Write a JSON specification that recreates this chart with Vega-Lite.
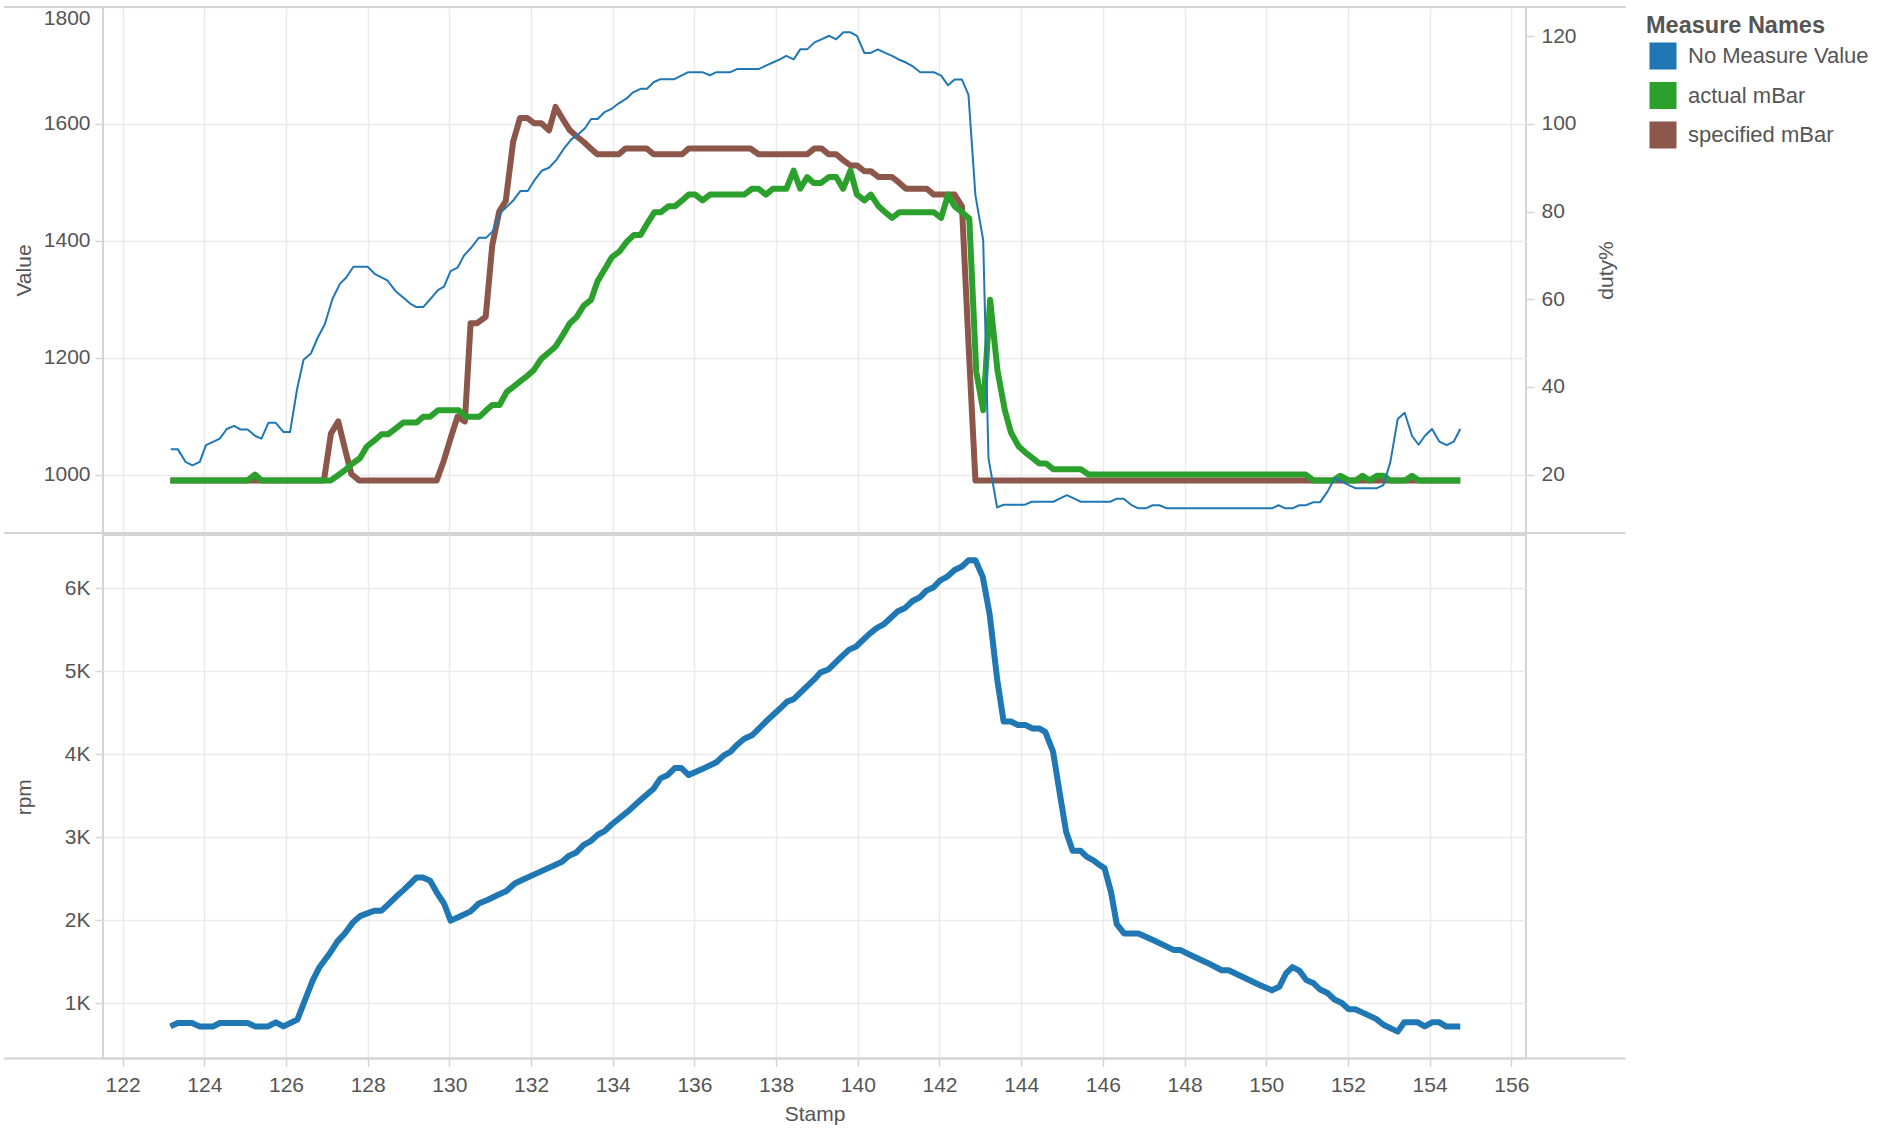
{
 "$schema": "https://vega.github.io/schema/vega-lite/v6.json",
 "background": "#ffffff",
 "padding": {"left": 2, "top": 5, "right": 0, "bottom": 0},
 "spacing": -5.5,
 "config": {
  "font": "Liberation Sans",
  "view": {"stroke": "#d4d4d4", "strokeWidth": 2},
  "axis": {"domain": false, "grid": true, "gridColor": "#ebebeb", "gridWidth": 1.5, "tickColor": "#d4d4d4", "tickSize": 8, "tickWidth": 1.5, "labelFontSize": 21, "labelColor": "#555555", "titleFontSize": 21, "titleColor": "#555555", "titleFontWeight": "normal", "labelPadding": 5}
 },
 "datasets": {
  "specified": [{"Stamp":123.17,"mBar":990},{"Stamp":126.93,"mBar":990},{"Stamp":127.1,"mBar":1070},{"Stamp":127.28,"mBar":1091},{"Stamp":127.44,"mBar":1045},{"Stamp":127.6,"mBar":1001},{"Stamp":127.79,"mBar":990},{"Stamp":129.69,"mBar":990},{"Stamp":129.87,"mBar":1025},{"Stamp":130.03,"mBar":1062},{"Stamp":130.2,"mBar":1099},{"Stamp":130.38,"mBar":1091},{"Stamp":130.52,"mBar":1259},{"Stamp":130.68,"mBar":1259},{"Stamp":130.89,"mBar":1270},{"Stamp":131.05,"mBar":1392},{"Stamp":131.22,"mBar":1450},{"Stamp":131.38,"mBar":1468},{"Stamp":131.56,"mBar":1569},{"Stamp":131.73,"mBar":1610},{"Stamp":131.91,"mBar":1610},{"Stamp":132.08,"mBar":1601},{"Stamp":132.25,"mBar":1601},{"Stamp":132.44,"mBar":1589},{"Stamp":132.6,"mBar":1629},{"Stamp":132.78,"mBar":1608},{"Stamp":132.95,"mBar":1589},{"Stamp":133.13,"mBar":1578},{"Stamp":133.29,"mBar":1569},{"Stamp":133.46,"mBar":1558},{"Stamp":133.62,"mBar":1548},{"Stamp":134.15,"mBar":1548},{"Stamp":134.31,"mBar":1558},{"Stamp":134.83,"mBar":1558},{"Stamp":135.0,"mBar":1548},{"Stamp":135.7,"mBar":1548},{"Stamp":135.86,"mBar":1558},{"Stamp":137.37,"mBar":1558},{"Stamp":137.57,"mBar":1548},{"Stamp":138.76,"mBar":1548},{"Stamp":138.94,"mBar":1558},{"Stamp":139.11,"mBar":1558},{"Stamp":139.29,"mBar":1548},{"Stamp":139.47,"mBar":1548},{"Stamp":139.64,"mBar":1538},{"Stamp":139.82,"mBar":1529},{"Stamp":139.98,"mBar":1529},{"Stamp":140.16,"mBar":1519},{"Stamp":140.32,"mBar":1519},{"Stamp":140.51,"mBar":1509},{"Stamp":140.84,"mBar":1509},{"Stamp":141.02,"mBar":1499},{"Stamp":141.18,"mBar":1489},{"Stamp":141.69,"mBar":1489},{"Stamp":141.86,"mBar":1479},{"Stamp":142.37,"mBar":1479},{"Stamp":142.55,"mBar":1459},{"Stamp":142.71,"mBar":1225},{"Stamp":142.88,"mBar":990},{"Stamp":154.75,"mBar":990}],
  "actual": [{"Stamp":123.17,"mBar":990},{"Stamp":125.06,"mBar":990},{"Stamp":125.24,"mBar":1000},{"Stamp":125.4,"mBar":990},{"Stamp":127.1,"mBar":990},{"Stamp":127.26,"mBar":998},{"Stamp":127.47,"mBar":1009},{"Stamp":127.63,"mBar":1019},{"Stamp":127.81,"mBar":1028},{"Stamp":127.98,"mBar":1048},{"Stamp":128.16,"mBar":1058},{"Stamp":128.34,"mBar":1069},{"Stamp":128.5,"mBar":1069},{"Stamp":128.69,"mBar":1079},{"Stamp":128.87,"mBar":1089},{"Stamp":129.2,"mBar":1089},{"Stamp":129.36,"mBar":1099},{"Stamp":129.53,"mBar":1099},{"Stamp":129.72,"mBar":1110},{"Stamp":130.23,"mBar":1110},{"Stamp":130.4,"mBar":1099},{"Stamp":130.74,"mBar":1099},{"Stamp":130.89,"mBar":1109},{"Stamp":131.05,"mBar":1119},{"Stamp":131.23,"mBar":1119},{"Stamp":131.4,"mBar":1141},{"Stamp":131.58,"mBar":1151},{"Stamp":131.74,"mBar":1160},{"Stamp":131.91,"mBar":1169},{"Stamp":132.07,"mBar":1179},{"Stamp":132.25,"mBar":1198},{"Stamp":132.42,"mBar":1208},{"Stamp":132.6,"mBar":1219},{"Stamp":132.78,"mBar":1239},{"Stamp":132.95,"mBar":1259},{"Stamp":133.11,"mBar":1269},{"Stamp":133.29,"mBar":1289},{"Stamp":133.47,"mBar":1299},{"Stamp":133.63,"mBar":1331},{"Stamp":133.8,"mBar":1351},{"Stamp":133.98,"mBar":1372},{"Stamp":134.17,"mBar":1382},{"Stamp":134.35,"mBar":1399},{"Stamp":134.52,"mBar":1410},{"Stamp":134.68,"mBar":1410},{"Stamp":134.84,"mBar":1429},{"Stamp":135.02,"mBar":1449},{"Stamp":135.18,"mBar":1449},{"Stamp":135.36,"mBar":1459},{"Stamp":135.52,"mBar":1459},{"Stamp":135.7,"mBar":1469},{"Stamp":135.86,"mBar":1479},{"Stamp":136.02,"mBar":1479},{"Stamp":136.2,"mBar":1469},{"Stamp":136.38,"mBar":1479},{"Stamp":137.22,"mBar":1479},{"Stamp":137.41,"mBar":1489},{"Stamp":137.57,"mBar":1489},{"Stamp":137.75,"mBar":1479},{"Stamp":137.92,"mBar":1489},{"Stamp":138.25,"mBar":1489},{"Stamp":138.43,"mBar":1520},{"Stamp":138.59,"mBar":1489},{"Stamp":138.76,"mBar":1509},{"Stamp":138.92,"mBar":1499},{"Stamp":139.1,"mBar":1499},{"Stamp":139.29,"mBar":1509},{"Stamp":139.47,"mBar":1509},{"Stamp":139.64,"mBar":1489},{"Stamp":139.82,"mBar":1520},{"Stamp":139.98,"mBar":1479},{"Stamp":140.16,"mBar":1469},{"Stamp":140.32,"mBar":1479},{"Stamp":140.51,"mBar":1459},{"Stamp":140.67,"mBar":1449},{"Stamp":140.84,"mBar":1439},{"Stamp":141.02,"mBar":1449},{"Stamp":141.86,"mBar":1449},{"Stamp":142.04,"mBar":1439},{"Stamp":142.21,"mBar":1479},{"Stamp":142.37,"mBar":1459},{"Stamp":142.55,"mBar":1449},{"Stamp":142.73,"mBar":1438},{"Stamp":142.9,"mBar":1176},{"Stamp":143.07,"mBar":1110},{"Stamp":143.24,"mBar":1299},{"Stamp":143.42,"mBar":1178},{"Stamp":143.6,"mBar":1110},{"Stamp":143.75,"mBar":1072},{"Stamp":143.94,"mBar":1048},{"Stamp":144.1,"mBar":1038},{"Stamp":144.28,"mBar":1028},{"Stamp":144.44,"mBar":1019},{"Stamp":144.61,"mBar":1019},{"Stamp":144.79,"mBar":1009},{"Stamp":145.46,"mBar":1009},{"Stamp":145.65,"mBar":1000},{"Stamp":150.96,"mBar":1000},{"Stamp":151.16,"mBar":990},{"Stamp":151.64,"mBar":990},{"Stamp":151.81,"mBar":998},{"Stamp":152.02,"mBar":990},{"Stamp":152.19,"mBar":990},{"Stamp":152.36,"mBar":998},{"Stamp":152.53,"mBar":990},{"Stamp":152.71,"mBar":998},{"Stamp":152.87,"mBar":998},{"Stamp":153.04,"mBar":990},{"Stamp":153.4,"mBar":990},{"Stamp":153.57,"mBar":998},{"Stamp":153.73,"mBar":990},{"Stamp":154.75,"mBar":990}],
  "duty": [{"Stamp":123.18,"duty":25.8},{"Stamp":123.35,"duty":25.8},{"Stamp":123.54,"duty":22.9},{"Stamp":123.71,"duty":22.1},{"Stamp":123.89,"duty":22.9},{"Stamp":124.04,"duty":26.7},{"Stamp":124.2,"duty":27.4},{"Stamp":124.38,"duty":28.2},{"Stamp":124.55,"duty":30.4},{"Stamp":124.73,"duty":31.1},{"Stamp":124.88,"duty":30.3},{"Stamp":125.06,"duty":30.3},{"Stamp":125.25,"duty":28.8},{"Stamp":125.4,"duty":28.2},{"Stamp":125.57,"duty":31.8},{"Stamp":125.75,"duty":31.8},{"Stamp":125.94,"duty":29.7},{"Stamp":126.1,"duty":29.7},{"Stamp":126.27,"duty":39.4},{"Stamp":126.43,"duty":46.2},{"Stamp":126.61,"duty":47.6},{"Stamp":126.77,"duty":51.1},{"Stamp":126.95,"duty":54.3},{"Stamp":127.14,"duty":60.1},{"Stamp":127.32,"duty":63.5},{"Stamp":127.48,"duty":65.0},{"Stamp":127.65,"duty":67.4},{"Stamp":128.0,"duty":67.4},{"Stamp":128.17,"duty":65.8},{"Stamp":128.48,"duty":64.3},{"Stamp":128.7,"duty":61.7},{"Stamp":128.87,"duty":60.4},{"Stamp":129.04,"duty":59.0},{"Stamp":129.19,"duty":58.2},{"Stamp":129.36,"duty":58.2},{"Stamp":129.54,"duty":60.1},{"Stamp":129.72,"duty":62.1},{"Stamp":129.87,"duty":62.9},{"Stamp":130.03,"duty":66.4},{"Stamp":130.2,"duty":67.2},{"Stamp":130.36,"duty":70.0},{"Stamp":130.54,"duty":71.8},{"Stamp":130.72,"duty":74.0},{"Stamp":130.9,"duty":74.0},{"Stamp":131.07,"duty":75.6},{"Stamp":131.24,"duty":79.6},{"Stamp":131.42,"duty":81.2},{"Stamp":131.58,"duty":82.7},{"Stamp":131.74,"duty":84.7},{"Stamp":131.92,"duty":84.7},{"Stamp":132.08,"duty":87.1},{"Stamp":132.26,"duty":89.3},{"Stamp":132.44,"duty":90.0},{"Stamp":132.62,"duty":91.8},{"Stamp":132.8,"duty":94.3},{"Stamp":132.98,"duty":96.4},{"Stamp":133.15,"duty":97.6},{"Stamp":133.32,"duty":99.0},{"Stamp":133.47,"duty":101.1},{"Stamp":133.63,"duty":101.1},{"Stamp":133.8,"duty":102.7},{"Stamp":133.98,"duty":103.5},{"Stamp":134.15,"duty":104.7},{"Stamp":134.34,"duty":105.8},{"Stamp":134.5,"duty":107.2},{"Stamp":134.68,"duty":108.0},{"Stamp":134.84,"duty":108.0},{"Stamp":135.0,"duty":109.5},{"Stamp":135.17,"duty":110.2},{"Stamp":135.51,"duty":110.2},{"Stamp":135.68,"duty":111.0},{"Stamp":135.85,"duty":111.8},{"Stamp":136.19,"duty":111.8},{"Stamp":136.38,"duty":111.1},{"Stamp":136.54,"duty":111.8},{"Stamp":136.88,"duty":111.8},{"Stamp":137.04,"duty":112.5},{"Stamp":137.57,"duty":112.5},{"Stamp":137.75,"duty":113.3},{"Stamp":137.92,"duty":114.0},{"Stamp":138.09,"duty":114.7},{"Stamp":138.25,"duty":115.5},{"Stamp":138.43,"duty":114.7},{"Stamp":138.59,"duty":117.0},{"Stamp":138.76,"duty":117.0},{"Stamp":138.94,"duty":118.6},{"Stamp":139.11,"duty":119.3},{"Stamp":139.3,"duty":120.1},{"Stamp":139.47,"duty":119.3},{"Stamp":139.65,"duty":120.9},{"Stamp":139.82,"duty":120.9},{"Stamp":139.98,"duty":120.1},{"Stamp":140.16,"duty":116.2},{"Stamp":140.32,"duty":116.2},{"Stamp":140.49,"duty":117.0},{"Stamp":140.67,"duty":116.2},{"Stamp":140.84,"duty":115.5},{"Stamp":141.0,"duty":114.7},{"Stamp":141.18,"duty":114.0},{"Stamp":141.35,"duty":113.1},{"Stamp":141.53,"duty":111.8},{"Stamp":141.86,"duty":111.8},{"Stamp":142.04,"duty":111.0},{"Stamp":142.21,"duty":108.8},{"Stamp":142.37,"duty":110.1},{"Stamp":142.55,"duty":110.1},{"Stamp":142.71,"duty":106.6},{"Stamp":142.88,"duty":83.7},{"Stamp":143.07,"duty":73.5},{"Stamp":143.2,"duty":23.7},{"Stamp":143.41,"duty":12.5},{"Stamp":143.57,"duty":13.1},{"Stamp":144.08,"duty":13.1},{"Stamp":144.26,"duty":13.8},{"Stamp":144.79,"duty":13.8},{"Stamp":144.94,"duty":14.5},{"Stamp":145.12,"duty":15.3},{"Stamp":145.3,"duty":14.5},{"Stamp":145.46,"duty":13.8},{"Stamp":146.18,"duty":13.8},{"Stamp":146.34,"duty":14.5},{"Stamp":146.51,"duty":14.5},{"Stamp":146.69,"duty":13.1},{"Stamp":146.87,"duty":12.3},{"Stamp":147.05,"duty":12.3},{"Stamp":147.22,"duty":13.0},{"Stamp":147.38,"duty":13.0},{"Stamp":147.57,"duty":12.3},{"Stamp":150.14,"duty":12.3},{"Stamp":150.3,"duty":13.0},{"Stamp":150.47,"duty":12.3},{"Stamp":150.64,"duty":12.3},{"Stamp":150.81,"duty":13.0},{"Stamp":150.97,"duty":13.0},{"Stamp":151.16,"duty":13.7},{"Stamp":151.32,"duty":13.7},{"Stamp":151.5,"duty":16.1},{"Stamp":151.67,"duty":19.1},{"Stamp":151.85,"duty":18.4},{"Stamp":152.02,"duty":17.6},{"Stamp":152.18,"duty":16.9},{"Stamp":152.71,"duty":16.9},{"Stamp":152.87,"duty":17.6},{"Stamp":153.04,"duty":22.9},{"Stamp":153.22,"duty":32.7},{"Stamp":153.39,"duty":34.1},{"Stamp":153.57,"duty":28.8},{"Stamp":153.73,"duty":26.8},{"Stamp":153.89,"duty":28.9},{"Stamp":154.06,"duty":30.4},{"Stamp":154.24,"duty":27.5},{"Stamp":154.42,"duty":26.7},{"Stamp":154.59,"duty":27.5},{"Stamp":154.75,"duty":30.4}],
  "rpm": [{"Stamp":123.17,"rpm":718},{"Stamp":123.35,"rpm":759},{"Stamp":123.7,"rpm":759},{"Stamp":123.88,"rpm":718},{"Stamp":124.22,"rpm":718},{"Stamp":124.38,"rpm":759},{"Stamp":125.06,"rpm":759},{"Stamp":125.24,"rpm":718},{"Stamp":125.56,"rpm":718},{"Stamp":125.75,"rpm":767},{"Stamp":125.94,"rpm":718},{"Stamp":126.28,"rpm":801},{"Stamp":126.46,"rpm":1029},{"Stamp":126.65,"rpm":1266},{"Stamp":126.81,"rpm":1424},{"Stamp":127.06,"rpm":1590},{"Stamp":127.26,"rpm":1743},{"Stamp":127.44,"rpm":1839},{"Stamp":127.64,"rpm":1972},{"Stamp":127.81,"rpm":2047},{"Stamp":127.99,"rpm":2080},{"Stamp":128.16,"rpm":2113},{"Stamp":128.34,"rpm":2113},{"Stamp":128.51,"rpm":2192},{"Stamp":128.7,"rpm":2283},{"Stamp":128.87,"rpm":2358},{"Stamp":129.04,"rpm":2437},{"Stamp":129.19,"rpm":2512},{"Stamp":129.35,"rpm":2512},{"Stamp":129.53,"rpm":2474},{"Stamp":129.71,"rpm":2317},{"Stamp":129.87,"rpm":2200},{"Stamp":130.03,"rpm":1993},{"Stamp":130.23,"rpm":2038},{"Stamp":130.52,"rpm":2105},{"Stamp":130.72,"rpm":2200},{"Stamp":130.93,"rpm":2242},{"Stamp":131.21,"rpm":2308},{"Stamp":131.4,"rpm":2350},{"Stamp":131.6,"rpm":2441},{"Stamp":131.78,"rpm":2483},{"Stamp":132.15,"rpm":2566},{"Stamp":132.76,"rpm":2703},{"Stamp":132.92,"rpm":2773},{"Stamp":133.11,"rpm":2815},{"Stamp":133.29,"rpm":2906},{"Stamp":133.45,"rpm":2948},{"Stamp":133.64,"rpm":3031},{"Stamp":133.8,"rpm":3072},{"Stamp":133.98,"rpm":3155},{"Stamp":134.35,"rpm":3301},{"Stamp":134.68,"rpm":3446},{"Stamp":135.0,"rpm":3583},{"Stamp":135.17,"rpm":3708},{"Stamp":135.35,"rpm":3749},{"Stamp":135.52,"rpm":3832},{"Stamp":135.68,"rpm":3832},{"Stamp":135.86,"rpm":3749},{"Stamp":136.19,"rpm":3820},{"Stamp":136.54,"rpm":3903},{"Stamp":136.72,"rpm":3986},{"Stamp":136.88,"rpm":4028},{"Stamp":137.04,"rpm":4111},{"Stamp":137.22,"rpm":4185},{"Stamp":137.41,"rpm":4227},{"Stamp":137.75,"rpm":4393},{"Stamp":138.09,"rpm":4547},{"Stamp":138.27,"rpm":4634},{"Stamp":138.43,"rpm":4663},{"Stamp":138.76,"rpm":4821},{"Stamp":138.94,"rpm":4904},{"Stamp":139.08,"rpm":4983},{"Stamp":139.29,"rpm":5024},{"Stamp":139.57,"rpm":5161},{"Stamp":139.78,"rpm":5257},{"Stamp":139.96,"rpm":5298},{"Stamp":140.27,"rpm":5444},{"Stamp":140.47,"rpm":5523},{"Stamp":140.63,"rpm":5564},{"Stamp":140.98,"rpm":5722},{"Stamp":141.16,"rpm":5763},{"Stamp":141.34,"rpm":5846},{"Stamp":141.51,"rpm":5888},{"Stamp":141.68,"rpm":5971},{"Stamp":141.86,"rpm":6013},{"Stamp":142.02,"rpm":6096},{"Stamp":142.18,"rpm":6137},{"Stamp":142.37,"rpm":6220},{"Stamp":142.55,"rpm":6262},{"Stamp":142.71,"rpm":6337},{"Stamp":142.88,"rpm":6337},{"Stamp":143.06,"rpm":6137},{"Stamp":143.23,"rpm":5680},{"Stamp":143.41,"rpm":4912},{"Stamp":143.57,"rpm":4393},{"Stamp":143.75,"rpm":4393},{"Stamp":143.92,"rpm":4351},{"Stamp":144.1,"rpm":4351},{"Stamp":144.28,"rpm":4310},{"Stamp":144.44,"rpm":4310},{"Stamp":144.59,"rpm":4268},{"Stamp":144.78,"rpm":4032},{"Stamp":144.94,"rpm":3542},{"Stamp":145.1,"rpm":3064},{"Stamp":145.26,"rpm":2836},{"Stamp":145.45,"rpm":2836},{"Stamp":145.61,"rpm":2761},{"Stamp":145.77,"rpm":2719},{"Stamp":145.93,"rpm":2660},{"Stamp":146.04,"rpm":2628},{"Stamp":146.2,"rpm":2337},{"Stamp":146.34,"rpm":1951},{"Stamp":146.52,"rpm":1839},{"Stamp":146.87,"rpm":1839},{"Stamp":147.24,"rpm":1756},{"Stamp":147.73,"rpm":1640},{"Stamp":147.89,"rpm":1640},{"Stamp":148.22,"rpm":1561},{"Stamp":148.55,"rpm":1486},{"Stamp":148.91,"rpm":1395},{"Stamp":149.08,"rpm":1395},{"Stamp":149.44,"rpm":1311},{"Stamp":149.81,"rpm":1224},{"Stamp":150.14,"rpm":1154},{"Stamp":150.32,"rpm":1195},{"Stamp":150.48,"rpm":1353},{"Stamp":150.64,"rpm":1432},{"Stamp":150.81,"rpm":1390},{"Stamp":150.98,"rpm":1278},{"Stamp":151.16,"rpm":1237},{"Stamp":151.32,"rpm":1162},{"Stamp":151.5,"rpm":1120},{"Stamp":151.67,"rpm":1042},{"Stamp":151.85,"rpm":1000},{"Stamp":152.02,"rpm":925},{"Stamp":152.18,"rpm":925},{"Stamp":152.36,"rpm":884},{"Stamp":152.69,"rpm":809},{"Stamp":152.87,"rpm":738},{"Stamp":153.04,"rpm":697},{"Stamp":153.22,"rpm":655},{"Stamp":153.38,"rpm":767},{"Stamp":153.71,"rpm":767},{"Stamp":153.88,"rpm":718},{"Stamp":154.06,"rpm":767},{"Stamp":154.24,"rpm":767},{"Stamp":154.4,"rpm":718},{"Stamp":154.75,"rpm":718}]
 },
 "vconcat": [
  {
   "width": 1423, "height": 526,
   "layer": [
    {"layer": [
     {"data": {"name": "specified"}, "mark": {"type": "line", "strokeWidth": 6, "strokeCap": "butt", "strokeJoin": "round"},
      "encoding": {
       "x": {"field": "Stamp", "type": "quantitative", "scale": {"domain": [121.52, 156.36], "nice": false, "zero": false}, "axis": {"values": [122,124,126,128,130,132,134,136,138,140,142,144,146,148,150,152,154,156], "labels": false, "ticks": false, "title": null, "grid": true}},
       "y": {"field": "mBar", "type": "quantitative", "scale": {"domain": [900, 1800], "nice": false, "zero": false}, "axis": {"title": "Value", "format": "d", "values": [1000,1200,1400,1600,1800], "labelFlush": true, "titleX": -79, "titleBaseline": "middle", "titleAngle": -90}},
       "color": {"datum": "specified mBar", "type": "nominal", "scale": {"domain": ["No Measure Value", "actual mBar", "specified mBar"], "range": ["#1f77b4", "#2ca02c", "#8c564b"]},
        "legend": {"title": "Measure Names", "orient": "none", "legendX": 1543, "legendY": 7, "padding": 0, "titleFontSize": 23.5, "titleFontWeight": "bold", "titleColor": "#555555", "titlePadding": 6.4, "labelFontSize": 22, "labelColor": "#555555", "labelOffset": 13, "labelLimit": 400, "symbolOffset": 5, "symbolType": "M-1.286,-1.143H1.286M-1.286,-0.857H1.286M-1.286,-0.571H1.286M-1.286,-0.286H1.286M-1.286,0H1.286M-1.286,0.286H1.286M-1.286,0.571H1.286M-1.286,0.857H1.286M-1.286,1.143H1.286", "symbolSize": 441, "symbolStrokeWidth": 3, "rowPadding": 1.6}}
      }},
     {"data": {"name": "actual"}, "mark": {"type": "line", "strokeWidth": 6, "strokeCap": "butt", "strokeJoin": "round"},
      "encoding": {
       "x": {"field": "Stamp", "type": "quantitative", "scale": {"domain": [121.52, 156.36], "nice": false, "zero": false}, "axis": {"values": [122,124,126,128,130,132,134,136,138,140,142,144,146,148,150,152,154,156], "labels": false, "ticks": false, "title": null, "grid": true}},
       "y": {"field": "mBar", "type": "quantitative", "scale": {"domain": [900, 1800], "nice": false, "zero": false}, "axis": {"title": "Value", "format": "d", "values": [1000,1200,1400,1600,1800], "labelFlush": true, "titleX": -79, "titleBaseline": "middle", "titleAngle": -90}},
       "color": {"datum": "actual mBar", "type": "nominal", "scale": {"domain": ["No Measure Value", "actual mBar", "specified mBar"], "range": ["#1f77b4", "#2ca02c", "#8c564b"]},
        "legend": {"title": "Measure Names", "orient": "none", "legendX": 1543, "legendY": 7, "padding": 0, "titleFontSize": 23.5, "titleFontWeight": "bold", "titleColor": "#555555", "titlePadding": 6.4, "labelFontSize": 22, "labelColor": "#555555", "labelOffset": 13, "labelLimit": 400, "symbolOffset": 5, "symbolType": "M-1.286,-1.143H1.286M-1.286,-0.857H1.286M-1.286,-0.571H1.286M-1.286,-0.286H1.286M-1.286,0H1.286M-1.286,0.286H1.286M-1.286,0.571H1.286M-1.286,0.857H1.286M-1.286,1.143H1.286", "symbolSize": 441, "symbolStrokeWidth": 3, "rowPadding": 1.6}}
      }}
    ]},
    {"data": {"name": "duty"}, "mark": {"type": "line", "strokeWidth": 2, "strokeCap": "butt", "strokeJoin": "round"},
     "encoding": {
      "x": {"field": "Stamp", "type": "quantitative", "scale": {"domain": [121.52, 156.36], "nice": false, "zero": false}, "axis": {"values": [122,124,126,128,130,132,134,136,138,140,142,144,146,148,150,152,154,156], "labels": false, "ticks": false, "title": null, "grid": true}},
      "y": {"field": "duty", "type": "quantitative", "scale": {"domain": [6.667, 126.667], "nice": false, "zero": false}, "axis": {"title": "duty%", "orient": "right", "grid": false, "values": [20,40,60,80,100,120], "titleX": 80, "titleBaseline": "middle", "titleAngle": -90, "labelPadding": 7}},
      "color": {"datum": "No Measure Value", "type": "nominal", "scale": {"domain": ["No Measure Value", "actual mBar", "specified mBar"], "range": ["#1f77b4", "#2ca02c", "#8c564b"]},
       "legend": {"title": "Measure Names", "orient": "none", "legendX": 1543, "legendY": 7, "padding": 0, "titleFontSize": 23.5, "titleFontWeight": "bold", "titleColor": "#555555", "titlePadding": 6.4, "labelFontSize": 22, "labelColor": "#555555", "labelOffset": 13, "labelLimit": 400, "symbolOffset": 5, "symbolType": "M-1.286,-1.143H1.286M-1.286,-0.857H1.286M-1.286,-0.571H1.286M-1.286,-0.286H1.286M-1.286,0H1.286M-1.286,0.286H1.286M-1.286,0.571H1.286M-1.286,0.857H1.286M-1.286,1.143H1.286", "symbolSize": 441, "symbolStrokeWidth": 3, "rowPadding": 1.6}}
     }},
    {"data": {"values": [{}]}, "layer": [
     {"mark": {"type": "rule", "color": "#d4d4d4", "strokeWidth": 2},
      "encoding": {"x": {"datum": 119.1, "type": "quantitative", "scale": {"domain": [121.52, 156.36], "nice": false, "zero": false}, "axis": {"values": [122,124,126,128,130,132,134,136,138,140,142,144,146,148,150,152,154,156], "labels": false, "ticks": false, "title": null, "grid": true}}, "x2": {"datum": 158.8}, "y": {"datum": 1, "type": "quantitative", "scale": {"domain": [0, 1], "nice": false, "zero": false}, "axis": null}}},
     {"mark": {"type": "rule", "color": "#d4d4d4", "strokeWidth": 2},
      "encoding": {"x": {"datum": 119.1, "type": "quantitative", "scale": {"domain": [121.52, 156.36], "nice": false, "zero": false}, "axis": {"values": [122,124,126,128,130,132,134,136,138,140,142,144,146,148,150,152,154,156], "labels": false, "ticks": false, "title": null, "grid": true}}, "x2": {"datum": 158.8}, "y": {"datum": 0, "type": "quantitative", "scale": {"domain": [0, 1], "nice": false, "zero": false}, "axis": null}}}
    ]}
   ],
   "resolve": {"scale": {"y": "independent"}}
  },
  {
   "width": 1423, "height": 523.5,
   "layer": [
    {"data": {"name": "rpm"}, "mark": {"type": "line", "strokeWidth": 6, "color": "#1f77b4", "strokeCap": "butt", "strokeJoin": "round"},
     "encoding": {
      "x": {"field": "Stamp", "type": "quantitative", "scale": {"domain": [121.52, 156.36], "nice": false, "zero": false}, "axis": {"values": [122,124,126,128,130,132,134,136,138,140,142,144,146,148,150,152,154,156], "title": "Stamp", "grid": true, "labelPadding": 7.5, "titlePadding": 8}},
      "y": {"field": "rpm", "type": "quantitative", "scale": {"domain": [331, 6642], "nice": false, "zero": false}, "axis": {"title": "rpm", "values": [1000,2000,3000,4000,5000,6000], "labelExpr": "datum.value / 1000 + 'K'", "titleX": -79, "titleBaseline": "middle", "titleAngle": -90}}
     }},
    {"data": {"values": [{}]}, "mark": {"type": "rule", "color": "#d4d4d4", "strokeWidth": 2},
     "encoding": {"x": {"datum": 119.1, "type": "quantitative", "scale": {"domain": [121.52, 156.36], "nice": false, "zero": false}, "axis": {"values": [122,124,126,128,130,132,134,136,138,140,142,144,146,148,150,152,154,156], "title": "Stamp", "grid": true, "labelPadding": 7.5, "titlePadding": 8}}, "x2": {"datum": 158.8}, "y": {"datum": 331, "type": "quantitative", "scale": {"domain": [331, 6642], "nice": false, "zero": false}, "axis": {"title": "rpm", "values": [1000,2000,3000,4000,5000,6000], "labelExpr": "datum.value / 1000 + 'K'", "titleX": -79, "titleBaseline": "middle", "titleAngle": -90}}}}
   ]
  }
 ]
}
